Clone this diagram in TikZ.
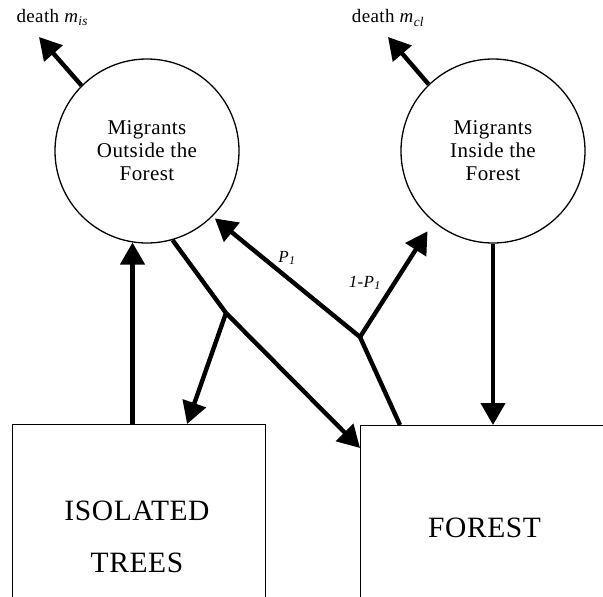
\documentclass[tikz,border=0pt]{standalone}
\usepackage{fontspec}
\setmainfont{Liberation Serif}[LetterSpace=2]
\usetikzlibrary{arrows.meta,calc}
\begin{document}
\begin{tikzpicture}[x=1pt,y=-1pt,
  flow/.style={line width=4.4pt, -{Triangle[length=22pt,width=24pt]}},
  pop/.style={circle, draw, line width=1.3pt, minimum size=184pt, inner sep=0pt, align=center, font=\fontsize{21}{23}\selectfont},
  stock/.style={draw, line width=1pt, anchor=north west, inner sep=0pt},
  stocktxt/.style={align=center, font=\fontsize{29.5}{52}\selectfont},
  lab/.style={font=\fontsize{19}{20}\selectfont},
  plab/.style={font=\fontsize{17}{18}\selectfont}]
\useasboundingbox (0,0) rectangle (603,597);
\clip (0,0) rectangle (603,597);
% stocks
\node[stock, minimum width=253.5pt, minimum height=200pt] (iso) at (11.5,424) {};
\node[stock, minimum width=260pt, minimum height=200pt] (fo) at (360,425) {};
\node[stocktxt] (isot) at (137,536.4) {ISOLATED\\TREES};
\node[stocktxt] (fot) at (484.6,527.4) {FOREST};
% populations
\node[pop] (mo) at (147,151) {Migrants\\Outside the\\Forest};
\node[pop] (mi) at (493,151) {Migrants\\Inside the\\Forest};
% death
\coordinate (dl) at (39,37);
\coordinate (dr) at (388,37);
\node[lab, anchor=base west] (dlt) at (13,23) {death \textit{m}\textsubscript{\textit{is}}};
\node[lab, anchor=base east] (drt) at (428,23) {death \textit{m}\textsubscript{\textit{cl}}};
\draw[flow] (mo.135) -- (dl);
\draw[flow] (mi.134) -- (dr);
% branch points
\coordinate (b1) at (226,313);
\coordinate (b2) at (360,337);
% flows
\draw[flow] (mo.-99 |- iso.north) -- (mo.-99);
\draw[flow] (mi.-90) -- (mi.-90 |- fo.north);
\draw[flow] (mo.-74) -- (b1) -- ($(fo.north west)+(0,23)$);
\draw[flow] (b1) -- ($(iso.north west)!0.69!(iso.north east)$);
\draw[flow, shorten >=3pt] ($(fo.north west)+(40,0)$) -- (b2) -- (mo.-45);
\draw[flow, shorten >=11pt] (b2) -- (mi.-130);
% labels
\node[plab] (p1) at (287,258) {\textit{P}\textsubscript{\textit{1}}};
\node[plab] (p2) at (365,283) {\textit{1-P}\textsubscript{\textit{1}}};
\end{tikzpicture}
\end{document}
